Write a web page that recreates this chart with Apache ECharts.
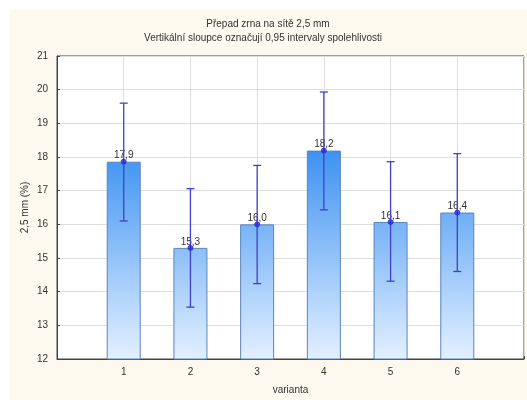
<!DOCTYPE html>
<html><head><meta charset="utf-8">
<script src="https://cdn.jsdelivr.net/npm/echarts@6/dist/echarts.min.js"></script>
<style>html,body{margin:0;padding:0;background:#fff}#c{width:527px;height:400px}</style>
</head><body><div id="c"></div>
<script>
const categories = [1, 2, 3, 4, 5, 6];
const means = [17.86, 15.30, 16.00, 18.19, 16.07, 16.35];
const lowerCI = [16.10, 13.54, 14.24, 16.43, 14.31, 14.60];
const upperCI = [19.60, 17.06, 17.75, 19.93, 17.86, 18.10];
const yTicks = [12, 13, 14, 15, 16, 17, 18, 19, 20, 21];

const chart = echarts.init(document.getElementById('c'));
const barData = categories.map((c, i) => [c, means[i]]);
const errData = categories.map((c, i) => [c, lowerCI[i], upperCI[i]]);
const fmt = v => v.toFixed(1).replace('.', ',');
const font = 'Liberation Sans, Arial, sans-serif';

chart.setOption({
  animation: false,
  backgroundColor: '#fff',
  graphic: [
    {type: 'rect', z: -10, shape: {x: 10, y: 10, width: 517, height: 390}, style: {fill: '#fdf9ee'}},
    {type: 'text', x: 268, y: 24, style: {text: 'Přepad zrna na sítě 2,5 mm', font: '10px ' + font, fill: '#333', align: 'center', verticalAlign: 'middle'}},
    {type: 'text', x: 263, y: 38, style: {text: 'Vertikální sloupce označují 0,95 intervaly spolehlivosti', font: '10px ' + font, fill: '#333', align: 'center', verticalAlign: 'middle'}}
  ],
  grid: {left: 57, top: 56, width: 472.5, height: 304, show: true, backgroundColor: '#fff', borderColor: '#444', borderWidth: 1},
  xAxis: {
    type: 'value', min: 0, max: 7, interval: 1,
    name: 'varianta', nameLocation: 'middle', nameGap: 26,
    nameTextStyle: {fontFamily: font, fontSize: 10, color: '#333'},
    axisLine: {show: true, onZero: false, lineStyle: {color: '#444'}},
    axisTick: {show: true, inside: true, length: 3, lineStyle: {color: '#444'}},
    axisLabel: {fontFamily: font, fontSize: 10, color: '#333', margin: 8,
      formatter: v => categories.includes(v) ? String(v) : ''},
    splitLine: {show: true, lineStyle: {color: '#dedede'}}
  },
  yAxis: {
    type: 'value', min: yTicks[0], max: yTicks[yTicks.length - 1], interval: 1,
    name: '2,5 mm (%)', nameLocation: 'middle', nameGap: 27, nameMoveOverlap: false,
    nameTextStyle: {fontFamily: font, fontSize: 10, color: '#333'},
    axisLine: {show: true, lineStyle: {color: '#444'}},
    axisTick: {show: true, inside: true, length: 3, lineStyle: {color: '#444'}},
    axisLabel: {fontFamily: font, fontSize: 10, color: '#333', margin: 9},
    splitLine: {show: true, lineStyle: {color: '#dedede'}}
  },
  series: [
    {
      type: 'bar', data: barData, barWidth: 34,
      itemStyle: {
        color: new echarts.graphic.LinearGradient(0, 151, 0, 360, [
          {offset: 0, color: '#3e92f2'}, {offset: 1, color: '#e4f1ff'}
        ], true),
        borderColor: '#5b84b8', borderWidth: 1
      },
      label: {show: true, position: 'top', distance: 1, fontFamily: font, fontSize: 10, color: '#333',
        formatter: p => fmt(p.value[1])}
    },
    {
      type: 'custom', data: errData, z: 5,
      encode: {x: 0, y: [1, 2]},
      renderItem: (params, api) => {
        const x = api.value(0);
        const lo = api.coord([x, api.value(1)]);
        const hi = api.coord([x, api.value(2)]);
        const hw = 4;
        const st = {stroke: '#4040cc', lineWidth: 1.3};
        return {type: 'group', children: [
          {type: 'line', shape: {x1: lo[0], y1: lo[1], x2: hi[0], y2: hi[1]}, style: st},
          {type: 'line', shape: {x1: lo[0] - hw, y1: lo[1], x2: lo[0] + hw, y2: lo[1]}, style: st},
          {type: 'line', shape: {x1: hi[0] - hw, y1: hi[1], x2: hi[0] + hw, y2: hi[1]}, style: st}
        ]};
      }
    },
    {
      type: 'scatter', data: barData, symbol: 'circle', symbolSize: 5, z: 6,
      itemStyle: {color: '#2a2ad8', borderColor: '#2a2ad8'}
    }
  ]
});
</script></body></html>
